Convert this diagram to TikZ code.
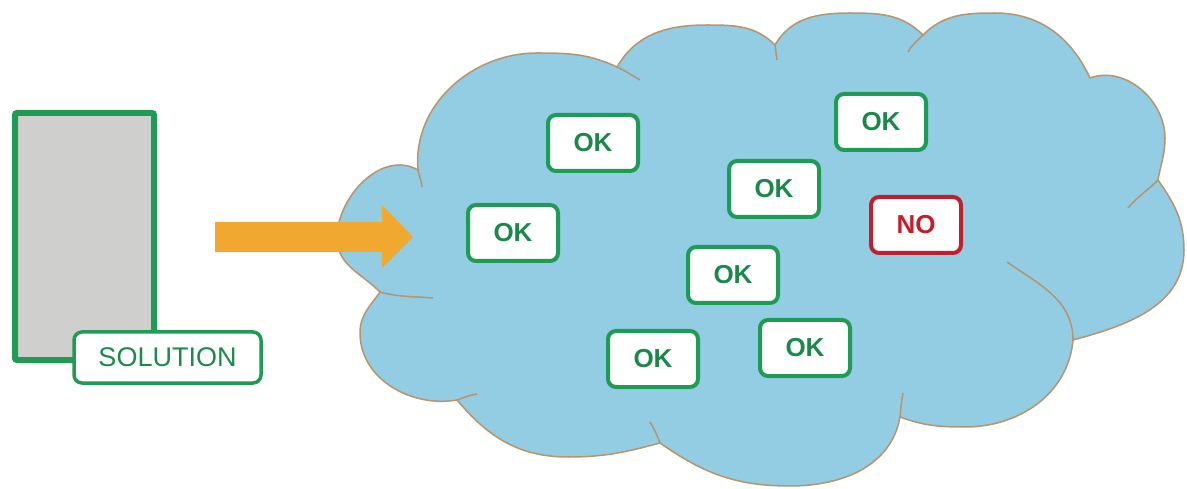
\documentclass[tikz,border=0pt]{standalone}
\usepackage{fontspec}
\setmainfont{Liberation Sans}
\usetikzlibrary{calc}

\definecolor{okgreen}{HTML}{1E9B55}
\definecolor{nored}{HTML}{C41E2A}
\definecolor{cloudblue}{HTML}{93CDE3}
\definecolor{cloudrim}{HTML}{B7946A}
\definecolor{arroworange}{HTML}{F0A830}
\definecolor{slabgray}{HTML}{CFCFCD}

\begin{document}
\begin{tikzpicture}[x=1pt, y=1pt,
  tag/.style={draw=okgreen, line width=4pt, fill=white, rounded corners=8pt, minimum width=90pt, minimum height=56pt, inner sep=0pt, text=okgreen!88!black, font=\fontsize{26}{30}\selectfont\bfseries},
  notag/.style={tag, draw=nored, text=nored},
  rim/.style={cloudrim, line width=1.5pt}]
\useasboundingbox (0,0) rectangle (1187,488);
% the cloud, lobe by lobe
\draw[rim, fill=cloudblue]
  (380,196) to[out=135,in=-90] (337,250) to[out=90,in=150] (418,318)
  to[out=95,in=180] (537,435) to[out=0,in=155] (617,421)
  to[out=60,in=180] (707,463) to[out=0,in=135] (775,443)
  to[out=60,in=180] (850,475) to[out=0,in=135] (923,453)
  to[out=45,in=180] (995,475) to[out=0,in=115] (1090,410)
  to[out=20,in=90] (1165,350) to[out=-90,in=80] (1158,308)
  to[out=-55,in=90] (1184,238) to[out=-90,in=15] (1073,148)
  to[out=-95,in=0] (965,61) to[out=180,in=-20] (900,71)
  to[out=-100,in=0] (790,2) to[out=180,in=-35] (660,45)
  to[out=195,in=0] (568,31) to[out=180,in=-50] (457,88)
  to[out=190,in=-90] (360,155) to[out=90,in=-125] (380,196) -- cycle;
\draw[rim]
  (380,196) to[out=-15,in=175] (433,190)
  (418,318) to[out=-80,in=95] (422,301)
  (617,421) to[out=-25,in=150] (640,408)
  (775,443) -- (777,428)
  (923,453) to[out=225,in=60] (908,436)
  (1158,308) to[out=225,in=50] (1128,280)
  (1073,148) to[out=90,in=-35] (1007,226)
  (900,71) to[out=85,in=-100] (903,95)
  (660,45) to[out=110,in=-60] (650,66)
  (457,88) to[out=20,in=190] (477,94);
% the solution and its label
\node[draw=okgreen, line width=6pt, fill=slabgray, rounded corners=2pt, minimum width=139pt, minimum height=247pt] (slab) at (84.5,251.5) {};
\node[draw=okgreen, line width=3.5pt, fill=white, rounded corners=8pt, minimum width=187pt, minimum height=51pt, inner sep=0pt, text=okgreen!90!black, font=\fontsize{27}{30}\selectfont] (solution) at (167.5,130.5) {SOLUTION};
% block arrow into the cloud
\fill[arroworange] (215,236) -- (382,236) -- (382,220) -- (413,251) -- (382,283) -- (382,266) -- (215,266) -- cycle;
% the checks
\foreach \n/\x/\y in {a/593/345, b/881/366, c/774/299, d/513/255, e/733/213, f/653/129, g/805/140}
  \node[tag] (ok\n) at (\x,\y) {OK};
\node[notag] (no) at (916,263) {NO};
\end{tikzpicture}
\end{document}
